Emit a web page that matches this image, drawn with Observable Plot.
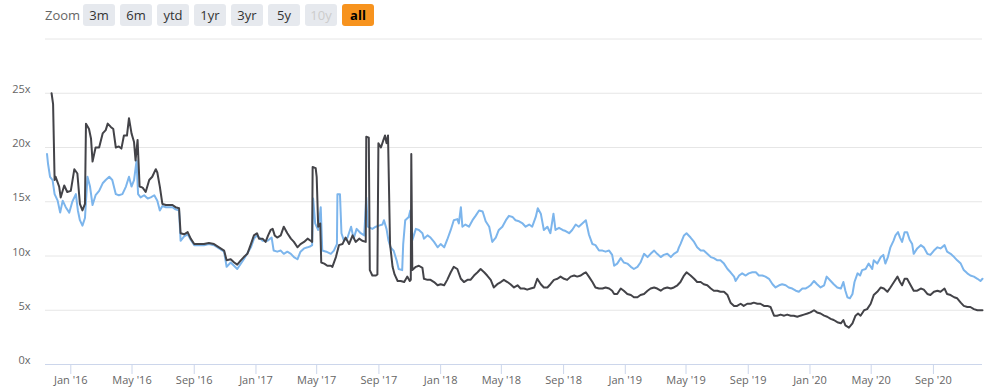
<!DOCTYPE html>
<html>
<head>
<meta charset="utf-8">
<script src="https://cdn.jsdelivr.net/npm/d3@7"></script>
<script src="https://cdn.jsdelivr.net/npm/@observablehq/plot@0.6"></script>
<style>
  body { margin: 0; background: #fff; font-family: "Open Sans", sans-serif; }
  #zoom { position: relative; width: 986px; height: 32px; }
  #zoom .lbl { position: absolute; left: 45px; top: 5px; line-height: 21px; font-size: 13px; color: #666; }
  #zoom .btn { position: absolute; top: 4px; width: 32px; height: 22px; line-height: 22px; border-radius: 3px;
               background: #e6e9ee; color: #333; font-size: 13px; text-align: center; }
  #zoom .btn.dis { color: #cccccc; }
  #zoom .btn.sel { background: #f7931e; color: #000; font-weight: bold; }
</style>
</head>
<body>
<div id="zoom"><span class="lbl">Zoom</span></div>
<div id="chart"></div>
<script>
const zoomButtons = ["3m", "6m", "ytd", "1yr", "3yr", "5y", "10y", "all"];
const yTickValues = [0, 5, 10, 15, 20, 25];
const gridValues = [5, 10, 15, 20, 25, 30];
const xTickDates = ["2016-01-01","2016-05-01","2016-09-01","2017-01-01","2017-05-01","2017-09-01","2018-01-01","2018-05-01","2018-09-01","2019-01-01","2019-05-01","2019-09-01","2020-01-01","2020-05-01","2020-09-01"];
const xTickLabels = ["Jan '16","May '16","Sep '16","Jan '17","May '17","Sep '17","Jan '18","May '18","Sep '18","Jan '19","May '19","Sep '19","Jan '20","May '20","Sep '20"];

const seriesDark = [
["2015-11-24",25.0],["2015-11-27",24.0],["2015-11-30",17.0],["2015-12-02",17.3],["2015-12-09",16.4],["2015-12-12",15.4],["2015-12-19",16.5],["2015-12-25",15.9],
["2016-01-01",16.0],["2016-01-08",18.0],["2016-01-14",17.6],["2016-01-19",14.8],["2016-01-24",14.2],["2016-01-29",14.8],["2016-01-31",22.2],["2016-02-06",21.7],
["2016-02-10",20.8],["2016-02-13",18.7],["2016-02-19",20.0],["2016-02-26",20.0],["2016-03-04",21.3],["2016-03-10",21.6],["2016-03-14",22.2],["2016-03-20",21.9],
["2016-03-25",21.7],["2016-03-30",20.0],["2016-04-05",20.1],["2016-04-10",19.9],["2016-04-15",21.1],["2016-04-21",21.1],["2016-04-25",22.7],["2016-04-30",21.3],
["2016-05-05",20.5],["2016-05-08",18.8],["2016-05-12",20.7],["2016-05-16",16.4],["2016-05-22",16.3],["2016-05-28",15.9],["2016-06-04",17.0],["2016-06-10",17.3],
["2016-06-17",18.0],["2016-06-20",17.7],["2016-06-25",16.4],["2016-06-30",14.8],["2016-07-07",14.7],["2016-07-13",14.7],["2016-07-20",14.7],["2016-07-26",14.5],
["2016-08-02",14.4],["2016-08-05",12.1],["2016-08-12",12.0],["2016-08-19",12.2],["2016-08-25",11.6],["2016-09-01",11.1],["2016-09-11",11.1],["2016-09-20",11.1],
["2016-09-30",11.2],["2016-10-10",11.1],["2016-10-20",10.8],["2016-10-30",10.5],["2016-11-04",9.6],["2016-11-12",9.7],["2016-11-19",9.4],["2016-11-25",9.2],
["2016-12-02",9.6],["2016-12-08",9.9],["2016-12-15",10.2],["2016-12-22",11.1],["2016-12-28",11.9],["2017-01-03",12.1],["2017-01-07",11.6],["2017-01-14",11.6],
["2017-01-20",11.3],["2017-01-25",11.9],["2017-01-30",12.4],["2017-02-03",12.5],["2017-02-07",11.9],["2017-02-12",11.7],["2017-02-19",11.9],["2017-02-25",12.7],
["2017-03-04",12.1],["2017-03-11",11.6],["2017-03-17",11.3],["2017-03-24",10.8],["2017-03-30",11.1],["2017-04-06",11.3],["2017-04-13",11.6],["2017-04-19",11.4],
["2017-04-22",11.3],["2017-04-23",18.2],["2017-04-29",18.1],["2017-05-01",17.3],["2017-05-04",12.7],["2017-05-08",13.0],["2017-05-10",9.4],["2017-05-16",9.3],
["2017-05-22",9.1],["2017-05-29",9.1],["2017-06-01",9.0],["2017-06-08",9.9],["2017-06-14",11.0],["2017-06-21",11.1],["2017-06-27",11.7],["2017-07-04",11.1],
["2017-07-11",11.9],["2017-07-17",11.3],["2017-07-24",11.6],["2017-07-30",11.4],["2017-08-06",11.3],["2017-08-07",21.0],["2017-08-12",20.9],["2017-08-14",8.7],
["2017-08-19",8.2],["2017-08-26",8.2],["2017-08-29",8.3],["2017-08-31",20.4],["2017-09-05",20.0],["2017-09-10",20.7],["2017-09-13",21.1],["2017-09-16",20.4],
["2017-09-19",21.1],["2017-09-23",11.1],["2017-09-28",9.0],["2017-10-02",8.3],["2017-10-08",7.7],["2017-10-14",7.7],["2017-10-21",7.6],["2017-10-27",8.1],
["2017-11-01",7.7],["2017-11-03",7.8],["2017-11-04",19.4],["2017-11-06",8.7],["2017-11-13",9.0],["2017-11-19",9.1],["2017-11-26",8.9],["2017-11-29",7.9],
["2017-12-06",7.8],["2017-12-12",7.8],["2017-12-19",7.6],["2017-12-26",7.3],["2018-01-01",7.4],["2018-01-08",7.3],["2018-01-14",7.8],["2018-01-21",8.5],
["2018-01-27",9.0],["2018-02-03",8.8],["2018-02-10",7.9],["2018-02-16",7.6],["2018-02-23",7.8],["2018-03-01",7.8],["2018-03-08",8.2],["2018-03-15",8.5],
["2018-03-21",8.8],["2018-03-28",8.5],["2018-04-03",8.2],["2018-04-10",7.8],["2018-04-16",7.1],["2018-04-23",7.4],["2018-04-30",7.6],["2018-05-06",7.8],
["2018-05-13",7.6],["2018-05-19",7.4],["2018-05-26",7.1],["2018-06-02",7.3],["2018-06-08",7.0],["2018-06-15",7.0],["2018-06-21",6.9],["2018-06-28",7.0],
["2018-07-05",7.1],["2018-07-11",7.9],["2018-07-18",7.4],["2018-07-24",7.1],["2018-07-31",7.1],["2018-08-06",7.4],["2018-08-13",7.8],["2018-08-20",7.9],
["2018-08-26",8.1],["2018-09-02",7.9],["2018-09-08",7.8],["2018-09-15",8.1],["2018-09-22",8.2],["2018-09-28",8.1],["2018-10-05",8.2],["2018-10-11",8.4],
["2018-10-15",8.5],["2018-10-21",8.1],["2018-10-28",7.6],["2018-11-03",7.1],["2018-11-10",7.0],["2018-11-17",7.0],["2018-11-23",7.1],["2018-11-30",7.0],
["2018-12-06",6.8],["2018-12-10",6.5],["2018-12-16",6.5],["2018-12-23",7.0],["2018-12-29",6.8],["2019-01-05",6.5],["2019-01-12",6.4],["2019-01-18",6.2],
["2019-01-25",6.2],["2019-01-31",6.4],["2019-02-07",6.5],["2019-02-14",6.8],["2019-02-20",7.0],["2019-02-27",7.1],["2019-03-05",7.0],["2019-03-12",6.8],
["2019-03-18",7.0],["2019-03-25",7.1],["2019-04-01",7.0],["2019-04-07",7.1],["2019-04-14",7.3],["2019-04-20",7.6],["2019-04-27",8.2],["2019-05-02",8.5],
["2019-05-10",8.2],["2019-05-17",7.9],["2019-05-23",7.6],["2019-05-30",7.6],["2019-06-05",7.4],["2019-06-12",7.3],["2019-06-19",7.0],["2019-06-25",6.8],
["2019-07-02",6.8],["2019-07-08",6.7],["2019-07-15",6.7],["2019-07-22",6.4],["2019-07-28",5.7],["2019-08-04",5.4],["2019-08-10",5.4],["2019-08-17",5.6],
["2019-08-23",5.4],["2019-08-30",5.6],["2019-09-06",5.6],["2019-09-12",5.7],["2019-09-19",5.6],["2019-09-25",5.6],["2019-10-02",5.4],["2019-10-09",5.4],
["2019-10-15",5.3],["2019-10-22",4.5],["2019-10-28",4.5],["2019-11-04",4.6],["2019-11-11",4.5],["2019-11-17",4.6],["2019-11-24",4.5],["2019-11-30",4.5],
["2019-12-07",4.4],["2019-12-13",4.5],["2019-12-20",4.6],["2019-12-27",4.7],["2020-01-02",4.8],["2020-01-09",5.0],["2020-01-15",4.8],["2020-01-22",4.7],
["2020-01-29",4.5],["2020-02-04",4.4],["2020-02-11",4.2],["2020-02-17",4.1],["2020-02-24",3.9],["2020-03-02",3.8],["2020-03-07",4.1],["2020-03-11",3.6],
["2020-03-18",3.4],["2020-03-25",3.8],["2020-03-31",4.5],["2020-04-05",4.7],["2020-04-10",4.5],["2020-04-17",5.0],["2020-04-23",5.1],["2020-04-30",5.6],
["2020-05-06",6.4],["2020-05-13",6.7],["2020-05-20",7.1],["2020-05-26",7.0],["2020-06-02",6.7],["2020-06-08",7.1],["2020-06-15",7.6],["2020-06-22",8.1],
["2020-06-27",7.6],["2020-07-01",7.3],["2020-07-06",7.9],["2020-07-11",7.9],["2020-07-18",7.3],["2020-07-24",6.8],["2020-07-31",6.8],["2020-08-07",7.0],
["2020-08-13",6.9],["2020-08-20",6.5],["2020-08-26",6.4],["2020-09-02",6.7],["2020-09-09",6.8],["2020-09-15",6.7],["2020-09-23",7.0],["2020-09-28",6.5],
["2020-10-05",6.4],["2020-10-12",6.2],["2020-10-18",6.1],["2020-10-25",5.7],["2020-10-31",5.4],["2020-11-07",5.3],["2020-11-13",5.3],["2020-11-20",5.1],
["2020-11-27",5.0],["2020-12-03",5.0],["2020-12-07",5.0]
];

const seriesBlue = [
["2015-11-15",19.4],["2015-11-17",18.5],["2015-11-21",17.3],["2015-11-26",17.0],["2015-11-30",15.7],["2015-12-06",15.1],["2015-12-11",14.0],["2015-12-16",15.1],
["2015-12-22",14.5],["2015-12-29",14.0],["2016-01-04",15.0],["2016-01-11",15.7],["2016-01-15",14.2],["2016-01-19",13.3],["2016-01-24",12.8],["2016-01-29",13.5],
["2016-02-03",17.3],["2016-02-08",16.4],["2016-02-13",14.7],["2016-02-19",15.6],["2016-02-26",16.0],["2016-03-04",16.7],["2016-03-10",17.0],["2016-03-17",17.3],
["2016-03-23",17.0],["2016-03-30",15.7],["2016-04-05",15.6],["2016-04-12",15.7],["2016-04-19",16.4],["2016-04-25",17.3],["2016-04-30",16.4],["2016-05-05",17.0],
["2016-05-10",18.8],["2016-05-13",15.7],["2016-05-18",15.4],["2016-05-25",15.6],["2016-06-01",15.3],["2016-06-07",15.4],["2016-06-14",15.6],["2016-06-20",15.1],
["2016-06-25",14.2],["2016-06-30",14.6],["2016-07-07",14.5],["2016-07-13",14.5],["2016-07-20",14.5],["2016-07-26",14.3],["2016-08-02",14.2],["2016-08-05",11.4],
["2016-08-12",11.8],["2016-08-19",12.0],["2016-08-25",11.5],["2016-09-01",11.0],["2016-09-11",11.0],["2016-09-20",11.0],["2016-09-30",11.1],["2016-10-10",11.0],
["2016-10-20",10.7],["2016-10-30",10.4],["2016-11-04",9.0],["2016-11-12",9.4],["2016-11-25",8.8],["2016-12-08",9.7],["2016-12-22",10.8],["2016-12-28",11.6],
["2017-01-03",11.9],["2017-01-14",11.4],["2017-01-24",11.4],["2017-02-01",11.7],["2017-02-05",10.5],["2017-02-12",10.4],["2017-02-19",10.5],["2017-02-25",10.2],
["2017-03-04",10.4],["2017-03-11",10.2],["2017-03-17",9.9],["2017-03-24",9.7],["2017-03-30",10.4],["2017-04-06",10.7],["2017-04-13",10.8],["2017-04-19",10.9],
["2017-04-22",11.0],["2017-04-24",15.3],["2017-04-28",13.0],["2017-05-04",12.4],["2017-05-09",14.5],["2017-05-12",10.5],["2017-05-20",10.4],["2017-05-29",10.2],
["2017-06-04",10.5],["2017-06-10",11.1],["2017-06-11",15.7],["2017-06-16",15.7],["2017-06-19",12.1],["2017-06-24",11.4],["2017-07-01",11.7],["2017-07-08",12.7],
["2017-07-13",11.6],["2017-07-19",12.5],["2017-07-27",12.1],["2017-08-03",11.9],["2017-08-07",15.4],["2017-08-10",12.7],["2017-08-19",12.5],["2017-08-26",12.7],
["2017-09-01",12.8],["2017-09-08",12.9],["2017-09-11",13.3],["2017-09-16",12.5],["2017-09-20",11.4],["2017-09-24",10.8],["2017-09-30",10.5],["2017-10-06",9.6],
["2017-10-10",8.8],["2017-10-17",8.7],["2017-10-19",11.1],["2017-10-23",13.3],["2017-10-30",13.6],["2017-11-02",14.2],["2017-11-05",11.3],["2017-11-13",12.5],
["2017-11-19",12.4],["2017-11-26",12.1],["2017-11-29",11.6],["2017-12-06",11.9],["2017-12-12",11.7],["2017-12-19",11.3],["2017-12-26",10.8],["2018-01-01",11.1],
["2018-01-08",10.8],["2018-01-14",11.5],["2018-01-21",12.4],["2018-01-27",13.3],["2018-02-03",13.4],["2018-02-06",13.0],["2018-02-10",14.5],["2018-02-13",12.7],
["2018-02-19",12.9],["2018-02-26",12.7],["2018-03-05",13.3],["2018-03-11",13.7],["2018-03-18",14.2],["2018-03-25",14.1],["2018-03-31",13.2],["2018-04-07",12.7],
["2018-04-13",11.3],["2018-04-20",11.7],["2018-04-26",12.4],["2018-05-03",12.7],["2018-05-10",13.3],["2018-05-16",13.7],["2018-05-23",13.6],["2018-05-29",13.3],
["2018-06-05",13.2],["2018-06-12",13.0],["2018-06-18",12.7],["2018-06-25",12.9],["2018-07-01",12.7],["2018-07-08",13.6],["2018-07-12",14.4],["2018-07-18",13.9],
["2018-07-24",12.4],["2018-07-31",12.7],["2018-08-06",12.1],["2018-08-12",13.9],["2018-08-16",12.4],["2018-08-23",12.6],["2018-08-30",12.4],["2018-09-05",12.3],
["2018-09-12",12.1],["2018-09-18",12.4],["2018-09-25",12.9],["2018-10-01",12.7],["2018-10-08",13.0],["2018-10-15",13.3],["2018-10-21",12.0],["2018-10-28",11.1],
["2018-11-03",11.0],["2018-11-10",10.5],["2018-11-17",10.5],["2018-11-23",10.4],["2018-11-30",10.5],["2018-12-06",10.1],["2018-12-10",9.1],["2018-12-16",9.3],
["2018-12-23",9.8],["2018-12-29",9.4],["2019-01-05",9.3],["2019-01-12",9.0],["2019-01-18",8.8],["2019-01-25",9.0],["2019-01-31",9.4],["2019-02-07",10.2],
["2019-02-14",9.9],["2019-02-20",10.2],["2019-02-27",10.5],["2019-03-05",10.2],["2019-03-12",9.9],["2019-03-18",10.1],["2019-03-25",10.2],["2019-04-01",9.9],
["2019-04-07",10.2],["2019-04-14",10.4],["2019-04-17",10.8],["2019-04-20",11.1],["2019-04-27",11.9],["2019-05-02",12.1],["2019-05-10",11.7],["2019-05-17",11.3],
["2019-05-23",10.8],["2019-05-30",10.5],["2019-06-05",10.5],["2019-06-12",10.2],["2019-06-19",9.9],["2019-06-25",9.8],["2019-07-02",9.6],["2019-07-08",9.6],
["2019-07-15",9.3],["2019-07-22",8.8],["2019-07-28",8.5],["2019-08-04",8.1],["2019-08-07",7.7],["2019-08-14",8.2],["2019-08-20",8.4],["2019-08-27",8.2],
["2019-09-02",8.4],["2019-09-09",8.5],["2019-09-16",8.5],["2019-09-22",8.2],["2019-09-29",8.2],["2019-10-05",8.1],["2019-10-12",7.9],["2019-10-19",7.4],
["2019-10-25",7.1],["2019-11-01",7.3],["2019-11-07",7.4],["2019-11-14",7.3],["2019-11-20",7.1],["2019-11-27",7.0],["2019-12-04",6.8],["2019-12-10",6.7],
["2019-12-17",7.0],["2019-12-23",7.0],["2019-12-27",7.1],["2020-01-02",7.3],["2020-01-09",7.7],["2020-01-15",7.4],["2020-01-22",7.1],["2020-01-29",7.3],
["2020-02-03",8.1],["2020-02-11",7.7],["2020-02-17",7.4],["2020-02-24",7.1],["2020-03-02",7.0],["2020-03-07",7.6],["2020-03-11",6.8],["2020-03-15",6.2],
["2020-03-20",6.1],["2020-03-25",6.5],["2020-03-29",7.6],["2020-04-04",8.4],["2020-04-09",8.2],["2020-04-13",8.7],["2020-04-20",8.8],["2020-04-26",9.3],
["2020-05-03",8.8],["2020-05-06",9.6],["2020-05-13",9.3],["2020-05-20",9.9],["2020-05-25",10.1],["2020-05-29",9.3],["2020-06-03",9.9],["2020-06-08",10.8],
["2020-06-14",11.4],["2020-06-18",11.9],["2020-06-23",12.2],["2020-06-27",11.7],["2020-07-01",11.3],["2020-07-06",12.2],["2020-07-11",12.2],["2020-07-16",11.5],
["2020-07-21",11.1],["2020-07-24",10.2],["2020-07-31",10.7],["2020-08-07",11.0],["2020-08-13",10.8],["2020-08-20",10.2],["2020-08-26",10.1],["2020-09-02",10.5],
["2020-09-09",10.8],["2020-09-15",10.7],["2020-09-23",11.0],["2020-09-28",10.4],["2020-10-05",10.2],["2020-10-12",9.9],["2020-10-18",9.6],["2020-10-25",9.3],
["2020-10-31",8.7],["2020-11-07",8.4],["2020-11-13",8.2],["2020-11-20",8.1],["2020-11-27",7.9],["2020-12-03",7.7],["2020-12-07",7.9]
];

// range selector buttons (HTML, above the SVG)
const zoomDiv = document.getElementById("zoom");
zoomButtons.forEach((b, i) => {
  const el = document.createElement("span");
  el.className = "btn" + (b === "10y" ? " dis" : "") + (b === "all" ? " sel" : "");
  el.style.left = (83 + i * 37) + "px";
  el.textContent = b;
  zoomDiv.appendChild(el);
});

const parse = d3.utcParse("%Y-%m-%d");
const toRows = (arr) => arr.map(([d, v]) => ({date: parse(d), value: v}));
const dark = toRows(seriesDark);
const blue = toRows(seriesBlue);
const ticks = xTickDates.map(parse);
const labelOf = new Map(ticks.map((t, i) => [+t, xTickLabels[i]]));

const chart = Plot.plot({
  width: 986,
  height: 358,
  marginLeft: 45,
  marginRight: 4,
  marginTop: 6.5,
  marginBottom: 26,
  x: {type: "utc", domain: [parse("2015-11-12"), parse("2020-12-07")]},
  y: {domain: [0, 30]},
  style: {fontFamily: "'Open Sans', sans-serif", fontSize: "11px", color: "#666", background: "#fff", overflow: "visible"},
  marks: [
    Plot.ruleY(gridValues, {stroke: "#e6e6e6", strokeWidth: 1}),
    Plot.axisY({ticks: yTickValues, tickFormat: (d) => d + "x", tickSize: 0, tickPadding: 15, dy: -4, fill: "#666", label: null}),
    Plot.line(blue, {x: "date", y: "value", stroke: "#7cb5ec", strokeWidth: 2}),
    Plot.line(dark, {x: "date", y: "value", stroke: "#434348", strokeWidth: 2}),
    Plot.ruleY([0], {stroke: "#ccd6eb", strokeWidth: 1}),
    Plot.axisX({ticks: ticks, tickFormat: (d) => labelOf.get(+d), tickSize: 10, tickPadding: 2, stroke: "#ccd6eb", fill: "#666", label: null})
  ]
});
document.getElementById("chart").appendChild(chart);
</script>
</body>
</html>
